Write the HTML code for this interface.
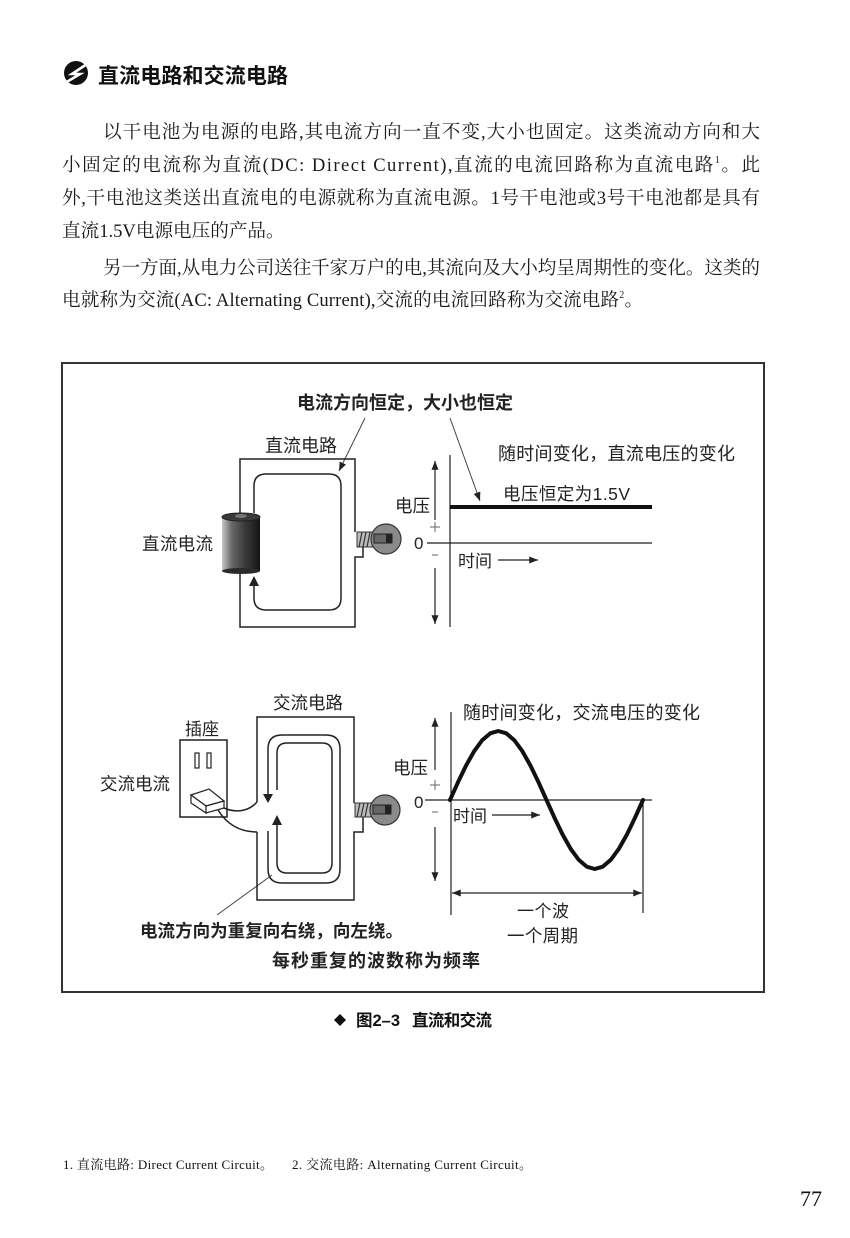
<!DOCTYPE html>
<html><head><meta charset="utf-8">
<style>
html,body{margin:0;padding:0;background:#fff;}
#pg{position:relative;width:850px;height:1238px;overflow:hidden;background:#fff;}
svg{position:absolute;left:0;top:0;}
</style></head>
<body><div id="pg">
<svg width="850" height="1238" viewBox="0 0 850 1238" xmlns="http://www.w3.org/2000/svg">
<defs>
<marker id="a" viewBox="0 0 10 8" refX="10" refY="4" markerWidth="9" markerHeight="7" markerUnits="userSpaceOnUse" orient="auto"><path d="M0,0L10,4L0,8z" fill="#222"/></marker>
<marker id="b" viewBox="0 0 10 8" refX="10" refY="4" markerWidth="9" markerHeight="7" markerUnits="userSpaceOnUse" orient="auto-start-reverse"><path d="M0,0L10,4L0,8z" fill="#222"/></marker>
<linearGradient id="bat" x1="0" y1="0" x2="1" y2="0">
<stop offset="0" stop-color="#c8c8c8"/><stop offset="0.25" stop-color="#6a6a6a"/><stop offset="0.6" stop-color="#3a3a3a"/><stop offset="1" stop-color="#151515"/></linearGradient>
</defs>

<!-- heading icon -->
<circle cx="76" cy="73" r="12" fill="#111"/>
<path d="M87 64 L72 74 L80 74 L65 83" stroke="#fff" stroke-width="2.6" fill="none"/>
<text x="98" y="83" font-family="Liberation Sans,'Noto Sans CJK SC',sans-serif" font-size="21" font-weight="bold" fill="#111" textLength="190">直流电路和交流电路</text>

<!-- body paragraphs -->
<g font-family="Liberation Serif,'Noto Serif CJK SC',serif" font-size="18.6" fill="#1a1a1a">
<text x="103" y="138" textLength="657" lengthAdjust="spacing">以干电池为电源的电路,其电流方向一直不变,大小也固定。这类流动方向和大</text>
<text x="62" y="171" textLength="698" lengthAdjust="spacing">小固定的电流称为直流(DC: Direct Current),直流的电流回路称为直流电路<tspan dy="-8" font-size="10">1</tspan><tspan dy="8">。此</tspan></text>
<text x="62" y="204" textLength="698" lengthAdjust="spacing">外,干电池这类送出直流电的电源就称为直流电源。1号干电池或3号干电池都是具有</text>
<text x="62" y="237">直流1.5V电源电压的产品。</text>
<text x="103" y="274" textLength="657" lengthAdjust="spacing">另一方面,从电力公司送往千家万户的电,其流向及大小均呈周期性的变化。这类的</text>
<text x="62" y="306" textLength="581" lengthAdjust="spacing">电就称为交流(AC: Alternating Current),交流的电流回路称为交流电路<tspan dy="-8" font-size="10">2</tspan><tspan dy="8">。</tspan></text>
</g>

<!-- frame -->
<rect x="62" y="363" width="702" height="629" fill="none" stroke="#333" stroke-width="2"/>

<g font-family="Liberation Sans,'Noto Sans CJK SC',sans-serif" fill="#222">
<text x="297" y="409" font-size="18" font-weight="bold" textLength="216">电流方向恒定，大小也恒定</text>
<text x="265" y="452" font-size="18" textLength="72">直流电路</text>
<text x="142" y="550" font-size="17.5" textLength="71">直流电流</text>
<text x="395" y="512" font-size="17.5">电压</text>
<text x="414" y="549" font-size="17">0</text>
<text x="498" y="460" font-size="18" textLength="237">随时间变化，直流电压的变化</text>
<text x="503" y="500" font-size="17.5" textLength="127">电压恒定为1.5V</text>
<text x="458" y="567" font-size="17">时间</text>

<text x="273" y="709" font-size="17.5" textLength="70">交流电路</text>
<text x="185" y="735" font-size="17">插座</text>
<text x="100" y="790" font-size="17.5" textLength="70">交流电流</text>
<text x="393" y="774" font-size="17.5">电压</text>
<text x="414" y="808" font-size="17">0</text>
<text x="463" y="719" font-size="18" textLength="237">随时间变化，交流电压的变化</text>
<text x="453" y="822" font-size="17">时间</text>
<text x="517" y="917" font-size="17" textLength="52">一个波</text>
<text x="507" y="942" font-size="17.5" textLength="71">一个周期</text>
<text x="140" y="937" font-size="17.5" font-weight="bold" textLength="263">电流方向为重复向右绕，向左绕。</text>
<text x="272" y="967" font-size="18" font-weight="bold" textLength="208">每秒重复的波数称为频率</text>
</g>

<!-- leaders -->
<g stroke="#444" stroke-width="1" fill="none">
<line x1="365" y1="418" x2="339" y2="471" marker-end="url(#a)"/>
<line x1="450" y1="418" x2="480" y2="501" marker-end="url(#a)"/>
<line x1="217" y1="915" x2="272" y2="875"/>
</g>

<!-- DC circuit -->
<g stroke="#222" stroke-width="1.5" fill="none">
<path d="M240 513 L240 459 L355 459 L355 532"/>
<path d="M363 547 L363 557 L355 557 L355 627 L240 627 L240 572"/>
<path d="M254 580 L254 598 Q254 610 266 610 L329 610 Q341 610 341 598 L341 486 Q341 474 329 474 L266 474 Q254 474 254 486 L254 513"/>
</g>
<path d="M249 586 L254 576 L259 586 Z" fill="#222"/>
<!-- battery -->
<rect x="222" y="516" width="38" height="55" fill="url(#bat)"/>
<ellipse cx="241" cy="571" rx="19" ry="3" fill="#2a2a2a"/>
<ellipse cx="241" cy="517" rx="19" ry="4" fill="#3a3a3a" stroke="#222" stroke-width="1"/>
<ellipse cx="241" cy="516" rx="6" ry="2" fill="#777"/>
<!-- DC bulb -->
<rect x="357" y="532" width="16" height="15" fill="#bbb" stroke="#333" stroke-width="1"/>
<g stroke="#333" stroke-width="1.2"><line x1="359" y1="547" x2="362" y2="532"/><line x1="363" y1="547" x2="366" y2="532"/><line x1="367" y1="547" x2="370" y2="532"/></g>
<circle cx="386" cy="539" r="15" fill="#8a8a8a" stroke="#333" stroke-width="1.2"/>
<rect x="374" y="534" width="18" height="9" fill="#666" stroke="#222" stroke-width="1"/>
<rect x="386" y="534" width="6" height="9" fill="#222"/>

<!-- DC axes -->
<g stroke="#222" stroke-width="1.2" fill="none">
<line x1="435" y1="520" x2="435" y2="461" marker-end="url(#a)"/>
<line x1="435" y1="568" x2="435" y2="624" marker-end="url(#a)"/>
<line x1="450" y1="455" x2="450" y2="627"/>
<line x1="427" y1="543" x2="652" y2="543"/>
<line x1="498" y1="560" x2="538" y2="560" marker-end="url(#a)"/>
</g>
<g stroke="#666" stroke-width="1"><line x1="430" y1="527" x2="440" y2="527"/><line x1="435" y1="522" x2="435" y2="532"/><line x1="432" y1="555" x2="438" y2="555"/></g>
<line x1="450" y1="507" x2="652" y2="507" stroke="#111" stroke-width="4"/>

<!-- AC circuit -->
<g stroke="#222" stroke-width="1.5" fill="none">
<path d="M257 802 L257 717 L354 717 L354 803"/>
<path d="M363 817 L363 832 L354 832 L354 900 L257 900 L257 832"/>
<path d="M268 796 L268 749 Q268 735 282 735 L326 735 Q340 735 340 749 L340 869 Q340 883 326 883 L282 883 Q268 883 268 869 L268 831"/>
<path d="M277 790 L277 753 Q277 743 287 743 L322 743 Q332 743 332 753 L332 863 Q332 873 322 873 L287 873 Q277 873 277 863 L277 822"/>
<path d="M224 808 C238 814 250 810 257 802"/>
<path d="M218 810 C228 826 242 832 257 832"/>
</g>
<path d="M263 794 L268 803 L273 794 Z" fill="#222"/>
<path d="M272 825 L277 815 L282 825 Z" fill="#222"/>
<!-- socket -->
<rect x="180" y="740" width="47" height="77" fill="none" stroke="#222" stroke-width="1.5"/>
<rect x="195" y="753" width="4" height="15" fill="none" stroke="#222" stroke-width="1.2"/>
<rect x="207" y="753" width="4" height="15" fill="none" stroke="#222" stroke-width="1.2"/>
<g stroke="#222" stroke-width="1.2" fill="#fff">
<path d="M191 795 L209 789 L224 801 L206 806 Z"/>
<path d="M191 795 L206 806 L206 813 L191 803 Z"/>
<path d="M206 806 L224 801 L224 808 L206 813 Z"/>
</g>
<!-- AC bulb -->
<rect x="355" y="803" width="16" height="14" fill="#bbb" stroke="#333" stroke-width="1"/>
<g stroke="#333" stroke-width="1.2"><line x1="357" y1="817" x2="360" y2="803"/><line x1="361" y1="817" x2="364" y2="803"/><line x1="365" y1="817" x2="368" y2="803"/></g>
<circle cx="385" cy="810" r="15" fill="#8a8a8a" stroke="#333" stroke-width="1.2"/>
<rect x="373" y="805" width="18" height="9" fill="#666" stroke="#222" stroke-width="1"/>
<rect x="385" y="805" width="6" height="9" fill="#222"/>

<!-- AC axes -->
<g stroke="#222" stroke-width="1.2" fill="none">
<line x1="435" y1="770" x2="435" y2="718" marker-end="url(#a)"/>
<line x1="435" y1="827" x2="435" y2="881" marker-end="url(#a)"/>
<line x1="451" y1="712" x2="451" y2="915"/>
<line x1="425" y1="800" x2="652" y2="800"/>
<line x1="643" y1="800" x2="643" y2="913"/>
<line x1="452" y1="893" x2="642" y2="893" marker-start="url(#b)" marker-end="url(#b)"/>
<line x1="492" y1="815" x2="540" y2="815" marker-end="url(#a)"/>
</g>
<g stroke="#666" stroke-width="1"><line x1="430" y1="785" x2="440" y2="785"/><line x1="435" y1="780" x2="435" y2="790"/><line x1="432" y1="812" x2="438" y2="812"/></g>
<polyline fill="none" stroke="#111" stroke-width="4" stroke-linejoin="round" stroke-linecap="round"
points="450,800 458.04,782.14 466.08,765.5 474.13,751.21 482.17,740.25 490.21,733.35 498.25,731 506.29,733.35 514.33,740.25 522.38,751.21 530.42,765.5 538.46,782.14 546.5,800 554.54,817.86 562.58,834.5 570.63,848.79 578.67,859.75 586.71,866.65 594.75,869 602.79,866.65 610.83,859.75 618.88,848.79 626.92,834.5 634.96,817.86 643,800"/>

<!-- caption -->
<path d="M340 1014 L346 1020 L340 1026 L334 1020 Z" fill="#111"/>
<text x="356" y="1026" font-family="Liberation Sans,'Noto Sans CJK SC',sans-serif" font-size="16.5" font-weight="bold" fill="#111">图2–3</text>
<text x="412" y="1026" font-family="Liberation Sans,'Noto Sans CJK SC',sans-serif" font-size="16.5" font-weight="bold" fill="#111" textLength="80">直流和交流</text>

<!-- footnote -->
<text x="63" y="1169" font-family="Liberation Serif,'Noto Serif CJK SC',serif" font-size="13" fill="#111" textLength="210" lengthAdjust="spacing">1. 直流电路: Direct Current Circuit。</text>
<text x="292" y="1169" font-family="Liberation Serif,'Noto Serif CJK SC',serif" font-size="13" fill="#111" textLength="240" lengthAdjust="spacing">2. 交流电路: Alternating Current Circuit。</text>

<!-- page number -->
<text x="800" y="1206" font-family="Liberation Serif,serif" font-size="22" fill="#111">77</text>
</svg>
</div></body></html>
